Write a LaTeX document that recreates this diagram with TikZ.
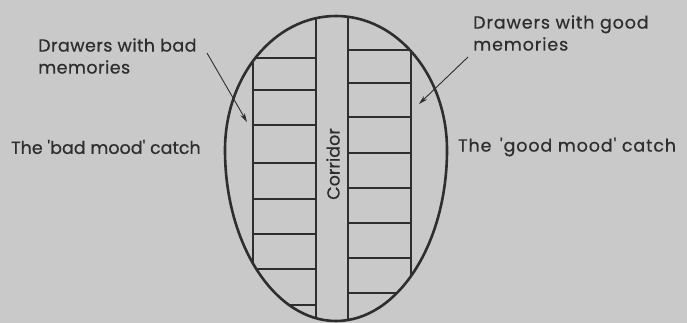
\documentclass[tikz,border=0pt]{standalone}
\usepackage{fontspec}
\newfontfamily\lblfont{Poppins}[FakeBold=0.6]
\newfontfamily\lblwide{Poppins}[FakeBold=0.6,LetterSpace=5]
\newfontfamily\lblmid{Poppins}[FakeBold=0.6,LetterSpace=2.5]
\usetikzlibrary{arrows.meta}
\definecolor{bg}{HTML}{C9C9C9}
\definecolor{ink}{HTML}{2E2E2E}
\def\eggpath{(225,150) arc[start angle=180,end angle=0,x radius=111pt,y radius=134pt]
  arc[start angle=0,end angle=-180,x radius=111pt,y radius=171pt] -- cycle}
\begin{document}
\begin{tikzpicture}[x=1pt,y=-1pt,
  lbl/.style={text=ink,font=\lblfont\fontsize{17.5}{22}\selectfont,inner sep=0pt,align=left},
  lblw/.style={lbl,font=\lblwide\fontsize{17.5}{22}\selectfont},
  lblm/.style={lbl,font=\lblmid\fontsize{17.5}{22}\selectfont},
  egg/.style={draw=ink,line width=2.6pt},
  wall/.style={draw=ink,line width=1.3pt},
  ptr/.style={draw=ink,line width=0.9pt,-{Stealth[length=9pt,width=5pt]}}]
\fill[bg] (0,0) rectangle (687,323);
\useasboundingbox (0,0) rectangle (687,323);
\begin{scope}
\clip \eggpath;
% corridor
\draw[wall] (316,0) -- (316,323);
\draw[wall] (348,0) -- (348,323);
% left drawers
\draw[wall] (253,58) -- (253,290);
\foreach \y in {58,90,125,163,199,234} \draw[wall] (253,\y) -- (316,\y);
\draw[wall] (220,269) -- (316,269);
\draw[wall] (220,305) -- (316,305);
% right drawers
\draw[wall] (411,48) -- (411,290);
\foreach \y in {50,83,117,153,188,223,258} \draw[wall] (348,\y) -- (411,\y);
\draw[wall] (348,293) -- (450,293);
\end{scope}
% egg outline
\draw[egg] \eggpath;
% corridor label
\node[lbl,rotate=90] (corr) at (333,164) {Corridor};
% labels
\node[lblm,anchor=west] (bad) at (38,56) {Drawers with bad\\memories};
\node[lbl,anchor=west] (badc) at (11,147) {The 'bad mood' catch};
\node[lblw,anchor=west] (good) at (473,33) {Drawers with good\\memories};
\node[lblw,anchor=west] (goodc) at (458,147) {The \,'good mood' catch};
% arrows
\coordinate (b1) at (207,53);
\coordinate (b2) at (247,122);
\coordinate (g1) at (468,57);
\coordinate (g2) at (419,104);
\draw[ptr] (b1) -- (b2);
\draw[ptr] (g1) -- (g2);
\end{tikzpicture}
\end{document}
